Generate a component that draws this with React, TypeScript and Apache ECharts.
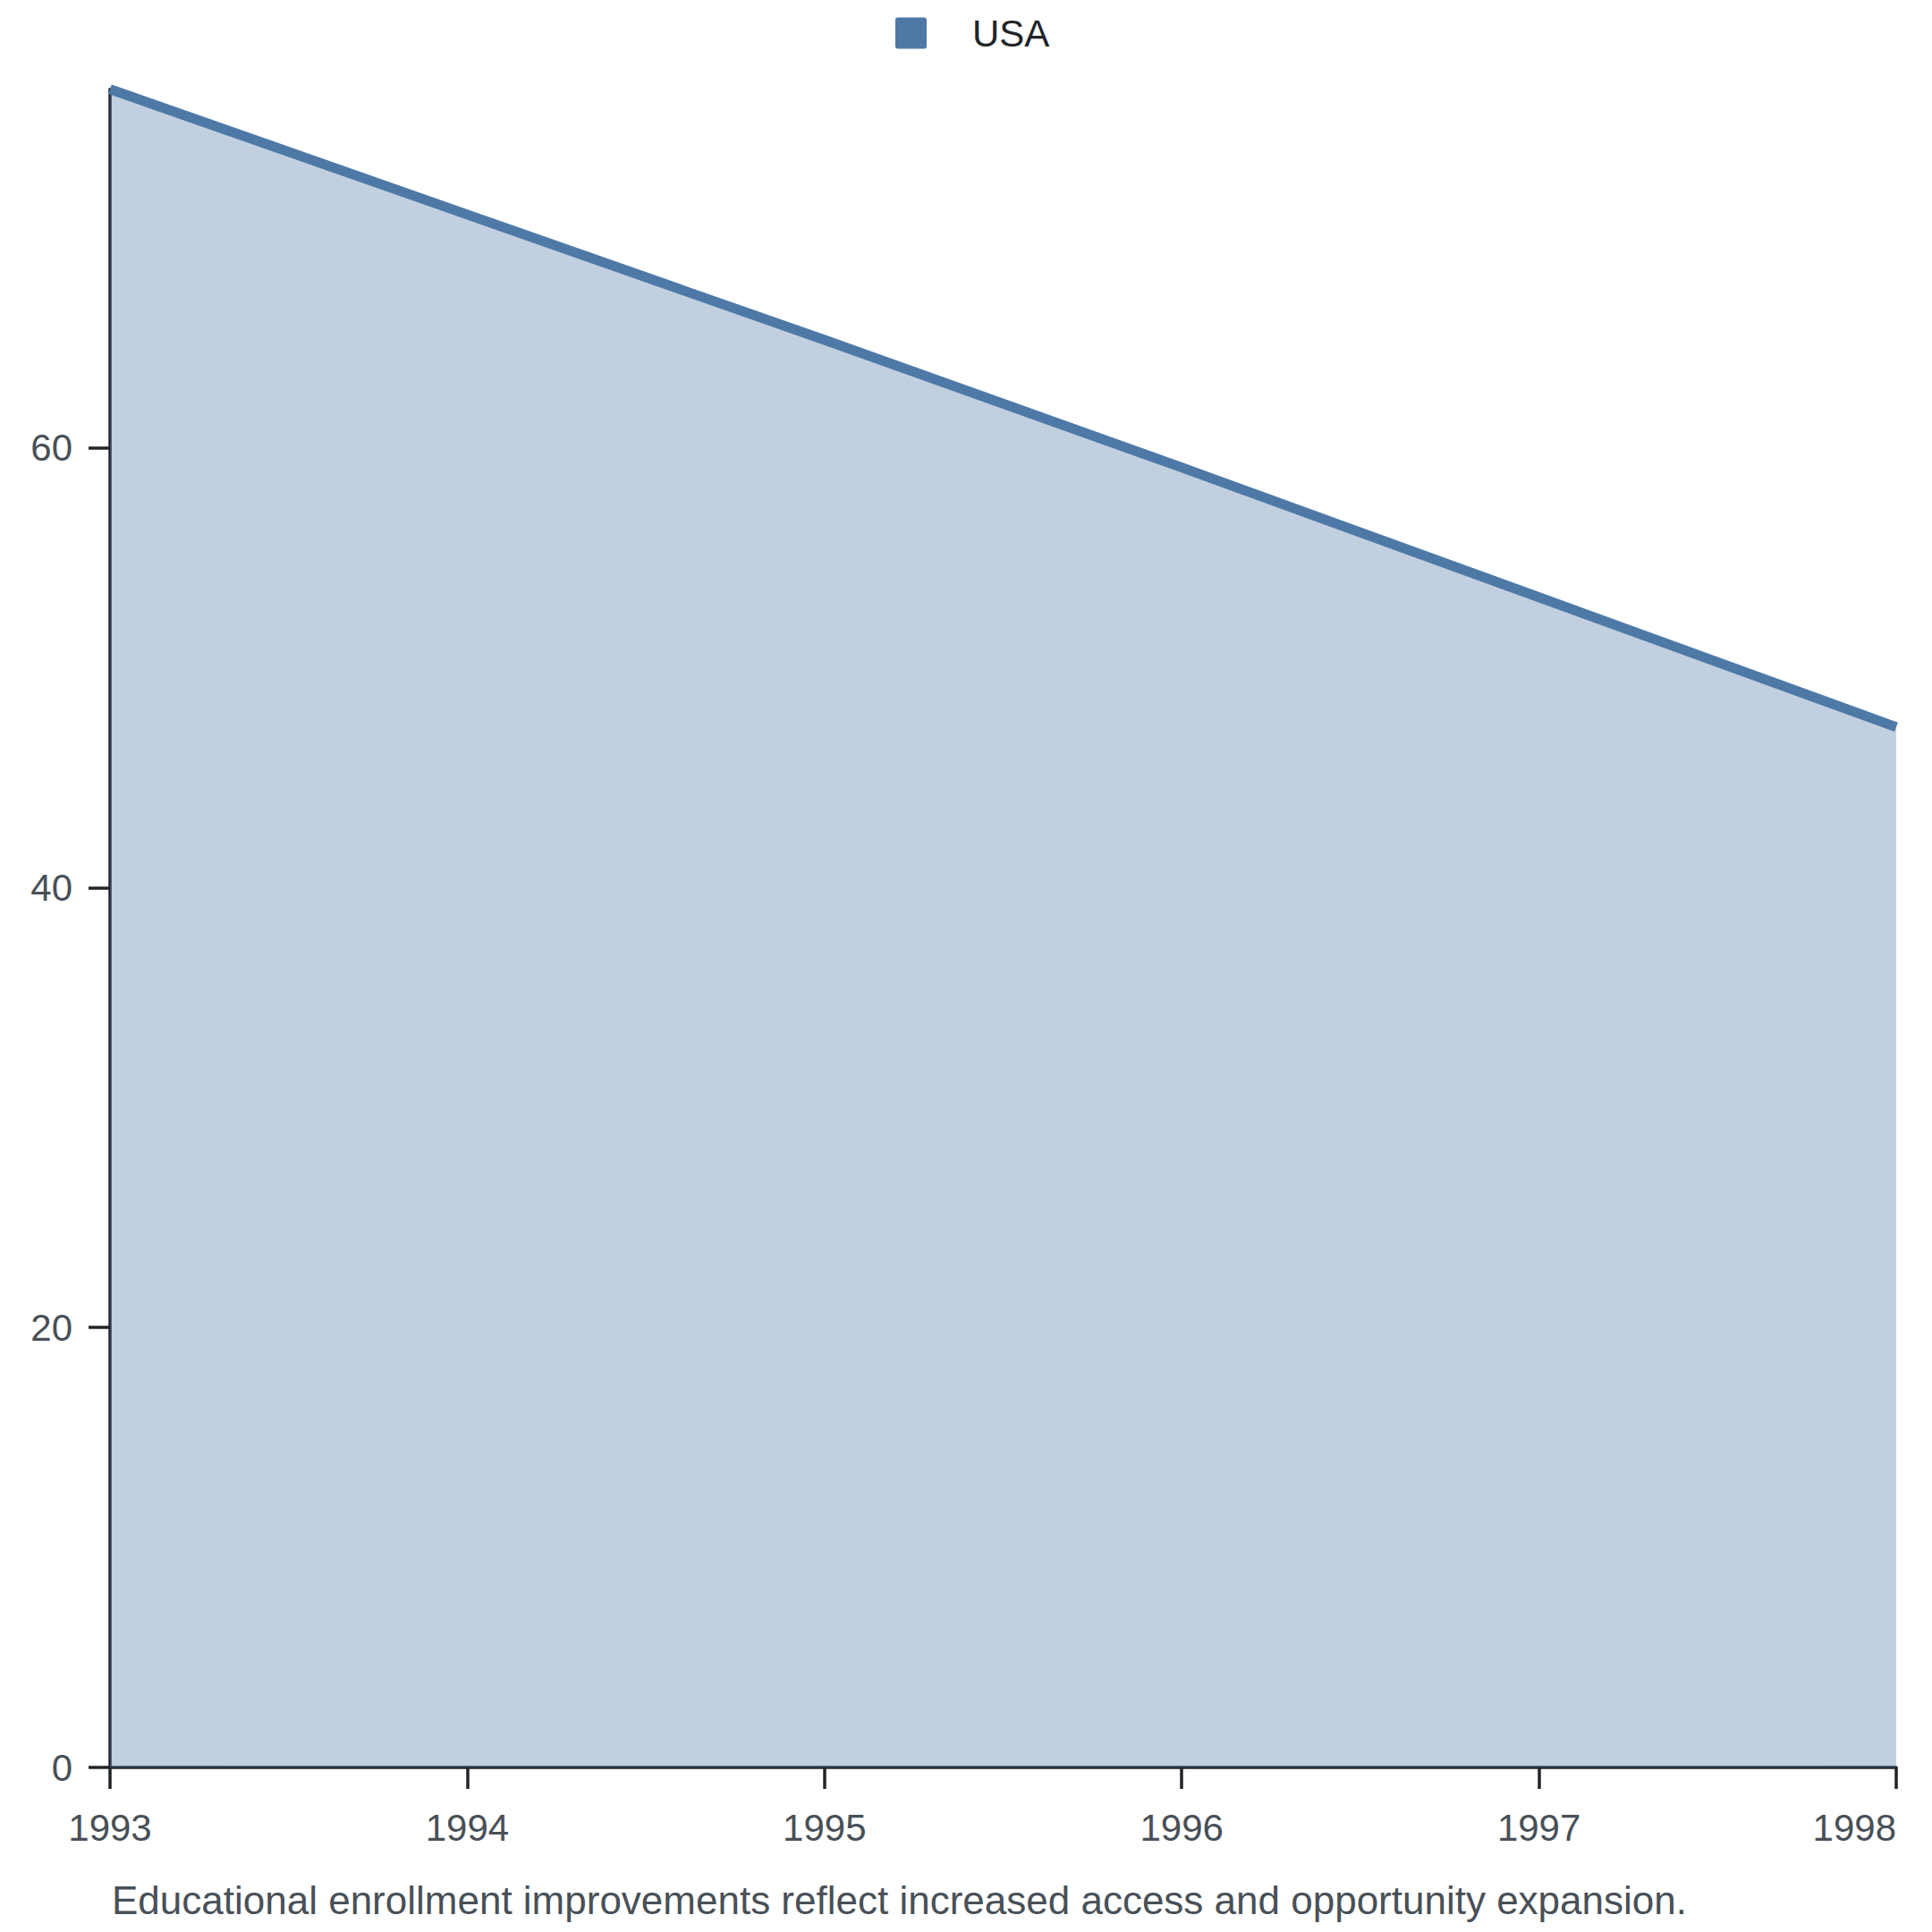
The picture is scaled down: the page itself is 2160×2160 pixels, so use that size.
import React, { useEffect, useRef } from "react";
import * as echarts from "echarts";

const years = ["1993", "1994", "1995", "1996", "1997", "1998"];
const usaValues = [76.3, 70.6, 64.9, 59.1, 53.2, 47.3];
const seriesName = "USA";
const caption =
  "Educational enrollment improvements reflect increased access and opportunity expansion.";

const FONT = "'Liberation Sans', Arial, Helvetica, sans-serif";

export default function App() {
  const ref = useRef<HTMLDivElement>(null);

  useEffect(() => {
    if (!ref.current) return;
    const chart = echarts.init(ref.current, undefined, { renderer: "svg" });
    chart.setOption({
      animation: false,
      backgroundColor: "#ffffff",
      textStyle: { fontFamily: FONT },
      legend: {
        data: [
          {
            name: seriesName,
            icon: "path://M3,0 H32 Q35,0 35,3 V32 Q35,35 32,35 H3 Q0,35 0,32 V3 Q0,0 3,0 Z",
          },
        ],
        left: 1001,
        top: 16,
        padding: 0,
        itemWidth: 35,
        itemHeight: 35,
        textStyle: {
          fontSize: 42,
          color: "#212529",
          fontFamily: FONT,
          padding: [0, 0, 0, 46],
        },
      },
      grid: {
        left: 123,
        right: 40,
        top: 99.7,
        bottom: 184,
        containLabel: false,
      },
      xAxis: {
        type: "category",
        data: years,
        boundaryGap: false,
        axisLine: { show: true, lineStyle: { color: "#212529", width: 3.5 } },
        axisTick: {
          show: true,
          length: 24,
          alignWithLabel: true,
          lineStyle: { color: "#212529", width: 3.5 },
        },
        axisLabel: {
          fontSize: 42,
          color: "#495057",
          fontFamily: FONT,
          margin: 46,
          alignMaxLabel: "right",
        },
        splitLine: { show: false },
      },
      yAxis: {
        type: "value",
        min: 0,
        max: "dataMax",
        interval: 20,
        axisLine: { show: true, lineStyle: { color: "#212529", width: 3.5 } },
        axisTick: { show: true, length: 24, lineStyle: { color: "#212529", width: 3.5 } },
        axisLabel: {
          fontSize: 42,
          color: "#495057",
          fontFamily: FONT,
          margin: 42,
          showMaxLabel: false,
        },
        splitLine: { show: false },
      },
      series: [
        {
          name: seriesName,
          type: "line",
          data: usaValues,
          color: "#4e79a7",
          showSymbol: false,
          symbol: "none",
          lineStyle: { color: "#4e79a7", width: 11 },
          areaStyle: { color: "#4e79a7", opacity: 0.35 },
        },
      ],
      graphic: [
        {
          type: "text",
          left: 125,
          top: 2102,
          style: {
            text: caption,
            fontSize: 44,
            fontFamily: FONT,
            fill: "#495057",
          },
        },
      ],
    });
    return () => chart.dispose();
  }, []);

  return (
    <div
      ref={ref}
      style={{ position: "fixed", left: 0, top: 0, width: 2160, height: 2160 }}
    />
  );
}
